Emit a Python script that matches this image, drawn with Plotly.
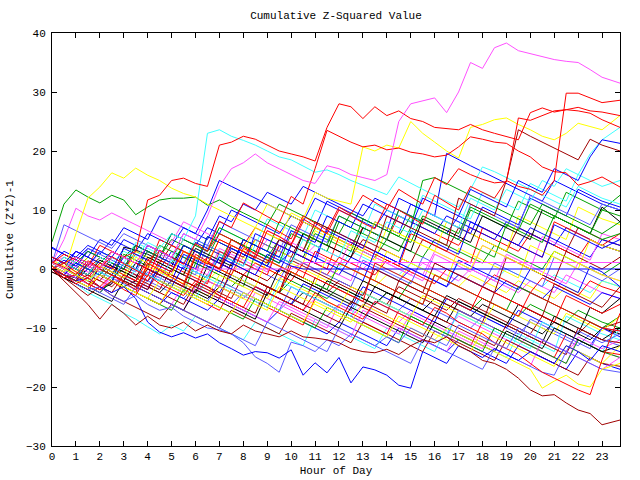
import plotly.graph_objects as go

hours = [0, 0.5, 1, 1.5, 2, 2.5, 3, 3.5, 4, 4.5, 5, 5.5, 6, 6.5, 7, 7.5,
         8, 8.5, 9, 9.5, 10, 10.5, 11, 11.5, 12, 12.5, 13, 13.5, 14, 14.5, 15, 15.5,
         16, 16.5, 17, 17.5, 18, 18.5, 19, 19.5, 20, 20.5, 21, 21.5, 22, 22.5, 23, 23.75]
hour_ticks = list(range(0, 24))
y_ticks = [-30, -20, -10, 0, 10, 20, 30, 40]

RED, GREEN, BLUE, MAGENTA, CYAN = "#ff0000", "#00a000", "#0000ff", "#ff50ff", "#40ffff"
DARKRED, YELLOW, BLACK, LIGHTBLUE = "#a00000", "#ffff00", "#000000", "#5a5aff"

m_top = [1, 0, 2, 1, 0, 3, 2, 1,
         4, 3, 2, 6, 5, 9, 14, 17,
         18, 19.5, 18, 17, 16, 15, 14.5, 17.5,
         17, 16, 15.5, 15, 16, 25, 28, 28.5,
         29, 26.5, 30, 35, 34, 37.5, 38.3, 37,
         36.5, 36, 35.5, 35.2, 35, 33.8, 32.5, 31.5]
r_big = [0, 1, 2, 1, 0, 3, 2, 3,
         11.7, 12.5, 15, 15.4, 14.5, 14, 21, 21.5,
         22.5, 22, 21, 20, 19.5, 19, 18.3, 24,
         28, 27.5, 25.5, 27.5, 26, 26.8, 25.5, 25,
         24, 23.8, 23.6, 24.5, 23.6, 23, 22.4, 21.9,
         26.5, 27.3, 26.6, 27, 26.8, 26.4, 25.3, 24]
r_late = [2, 1, -0.5, -1.5, 1, 0.2, -1, -2,
          1.5, 0.5, -0.5, 3, 2, 0.8, 5, 4,
          3, 1.8, 6.5, 5.5, 4.2, 8.5, 7.2, 6,
          10, 9, 7.8, 6.8, 11, 10, 8.8, 7.6,
          12.5, 11.2, 10, 14, 13, 12, 15, 14,
          13.5, 12.5, 15, 29.8, 29.8, 29, 28.2, 28.6]
r_jump19 = [0.5, -1, -2.5, -1.5, -3, -1, -2.2, -3.5,
            1, -0.2, -1.4, -2.6, 2.5, 1.3, 0.1, 5,
            3.8, 2.6, 7.5, 6.3, 5.1, 9, 7.8, 6.6,
            10.5, 9.3, 12.5, 11.3, 10.1, 13.5, 12.3, 11,
            15.5, 14.3, 17, 16, 15.2, 14.6, 14.8, 25.6,
            25.2, 26, 26.8, 27, 27.4, 26.8, 26.6, 26]
r_second = [1.2, 0.3, -0.9, 1.4, 0.2, 2.1, 0.9, -0.2,
            -1.3, 3.2, 2, 0.8, 4.3, 3, 8.1, 7,
            11.2, 10, 8.9, 7.8, 12.3, 11, 17, 23.5,
            22.5, 21.5, 20.7, 21, 20.2, 20.5, 19.8, 19.5,
            19, 19.3, 20.7, 22.4, 22, 21.5, 21.3, 20,
            19, 17.3, 16.5, 16.3, 14.2, 14.8, 15.6, 13.9]
dr_low = [0, -2, -4, -6, -8.5, -6, -7.5, -9.5,
          -8, -9.5, -10, -9, -10.5, -9.5, -10.5, -11,
          -9.5, -10.5, -11, -11.5, -10.5, -11.5, -11.7, -12,
          -12.5, -13.5, -14, -14.2, -13.6, -14.5, -13, -12,
          -12.5, -11.5, -13, -14, -15.5, -16, -17, -18.5,
          -20.5, -21.5, -21.3, -22.7, -23.9, -24.5, -26.4, -25.6]
b_low = [0, -1, -2, -1.5, -3, -4, -3, -5,
         -9, -10.7, -11.5, -10.8, -11.7, -11, -12.5, -13.5,
         -14.6, -14, -14.2, -15.1, -13.7, -18, -15.9, -17.6,
         -15, -19.3, -16.6, -17.1, -18, -19.7, -20.2, -14,
         -15, -16, -13, -14, -15, -13.5, -14.5, -15.5,
         -14, -15, -16, -13, -14, -15.5, -13, -14]
lb_low = [0, -1, -2.5, -3.5, -3, -4.5, -5.5, -4.5,
          -6, -7, -6.5, -8, -9, -10, -10.3, -11,
          -12.5, -14.9, -16, -17.5, -12.4, -13, -14, -12,
          -13, -11, -12, -13, -11.5, -12.5, -10, -11,
          -12, -13, -9.5, -10.5, -11.5, -12.5, -13.5, -10,
          -11, -12, -13, -14, -10.5, -11.5, -12.5, -11]
y_early = [0.5, -0.5, 6, 12, 13.9, 16.3, 15.4, 17.1,
           15.9, 15, 13.7, 12.8, 12.2, 11, 10, 9,
           8, 7, 11, 10, 9, 8, 7, 6,
           5, 4, 3, 8, 7, 6, 5, 4,
           3, 2, 1, 0, 4, 3, 2, 1,
           0, -1, 3, 2, 1, 0, -1, -2]
g_early = [4.6, 11, 13.4, 12.2, 11.2, 12.5, 11.7, 9.2,
           10.5, 11.7, 12, 12, 12.2, 10.8, 11.7, 10.5,
           9.5, 8.5, 7.5, 11, 10, 9, 8, 7,
           6, 9.5, 8.5, 7.5, 6.5, 5.5, 4.5, 9,
           8, 7, 6, 10.5, 9.5, 8.5, 7.5, 6.5,
           11, 10, 9, 8, 7, 6, 10, 9]
c_top = [0, 1, 0, -1, 2, 1, 3, 2,
         4.5, 3.5, 6, 5, 9, 23, 23.6, 22.5,
         21.8, 21, 20, 19, 18.5, 17.5, 16.4, 16.8,
         16, 15, 14.2, 13.5, 12.6, 15.6, 14.5, 13.5,
         12.5, 11.5, 10.5, 13.5, 17.3, 16.5, 15.5, 14.5,
         13.5, 12.5, 11.5, 10.5, 14, 13, 12, 11]
y_mid = [1, 0, -1, -2, 0.5, -0.5, -1.5, 2,
         1, 0, -1, 3, 2, 1, 5, 4,
         3, 7, 6, 5, 9.5, 8.5, 13, 12,
         11.5, 11, 20.7, 20, 21, 20.5, 25, 23,
         21.5, 20, 18.8, 24, 24.5, 25.3, 25.6, 24.5,
         23.6, 22.5, 21.9, 23, 24.7, 24.2, 23.6, 26]
r_low = [0, -1.5, -1, -2.5, -3.5, -2, -3.5, -4.5,
         -1, -2.5, -3.5, -4.5, -2, -3, -4.5, -5.5,
         -6.5, -3, -4, -5, -6, -7, -4, -5.5,
         -6.5, -7.5, -8.5, -5.5, -6.5, -7.5, -8.5, -9.5,
         -6.5, -7.5, -9, -10, -11, -12.5, -13.5, -14.5,
         -16, -17.5, -18.5, -19.5, -20.5, -21.3, -15.4, -7.5]
c_right = [1, 0, -1, -2, -0.5, -1.5, 1, 0,
           -1, -2, 1.5, 0.5, -0.5, -1.5, 2.5, 1.5,
           0.5, 4, 3, 2, 1, 5, 4, 3,
           2, 6.5, 5.5, 4.5, 8, 7, 6, 10,
           9, 8, 7, 12, 11, 10, 13.5, 12.5,
           11.5, 15, 14, 17, 16, 19.5, 21.9, 24]
b_right = [2, 1, 3, 2, 1, 0, 3.5, 2.5,
           1.5, 0.5, -0.5, 4, 3, 2, 1, 0,
           5, 4, 3, 2, 6.5, 5.5, 4.5, 9,
           8, 7, 11, 10, 9, 8, 7, 12,
           11, 10, 9, 13.5, 12.5, 11.5, 10.5, 15,
           14, 13, 17, 16, 15, 19, 21.9, 21.3]
dr_upper = [0, -1, -2, 1, 0, -1, -2, -3,
            0, -1, -2, -3, 2, 1, 0, 4,
            3, 2, 1, 5, 4, 3, 8, 7,
            6, 5, 4, 3, 9, 8, 7, 6,
            5, 4, 12, 11, 10, 9, 15, 23.6,
            22.5, 21.5, 20.5, 19.5, 18.5, 22, 21, 20]
y_low = [0, -1, -2, -3, -1, -2, -3, -4,
         -5, -2, -3, -4, -5, -6, -3, -4,
         -5, -6, -7, -3, -4, -5, -6, -7,
         -8, -9, -6, -7, -8, -9, -10, -11,
         -12, -10, -11, -12, -13, -14, -15, -16,
         -17, -20.2, -19, -18, -19.5, -20, -17, -16]
m_flat = [0.5, -0.5, 1.5, 0.5, -0.5, 2, 1, 0,
          -1, 2.5, 1.5, 0.5, 0, 0, 0, 0,
          0, 0, 0, 0, 0, 1.1, 1.1, 1.1,
          1.1, 1.1, 1.1, 1.1, 1.1, 1.1, 1.1, 1.1,
          1.1, 1.1, 1.1, 1.1, 1.1, 1.1, 1.1, 1.1,
          1.1, 1.1, 1.1, 1.1, 1.1, 1.1, 1.1, 1.1]
b_flat = [0, -1, 1, 0, -1, -2, 1, 0,
          -1, -2, -3, 0.5, -0.5, -1.5, 2, 1,
          0, -1, 2.5, 1.5, 0.5, 0, 0, 0,
          0, 0, 0, 0, 0, 0, 0, 0,
          0, 0, 0, 0, 0, 0, 0, 0,
          0, 0, 0, 0, 0, 0, 0, 0]
g_a = [0.5, -0.5, 2, 1, 0, -1, 2.5, 1.5,
       0.5, 4, 3, 2, 1, 5.5, 4.5, 3.5,
       2.5, 1.5, 0.5, 4, 3, 2, 6, 5,
       4, 3, 8.5, 7.5, 6.5, 5.5, 9, 8,
       7, 6, 5, 10, 9, 8, 7, 11.5,
       10.5, 9.5, 8.5, 13, 12, 11, 10, 12.5]
b_a = [1, 0, -1, -2, 0.5, -0.5, -1.5, -2.5,
       -3.5, 1, 0, -1, -2, -3, -4, -1,
       -2, -3, -4, -5, -6, -2.5, -3.5, -4.5,
       -5.5, -6.5, -3, -4, -5, -6, -7, -8,
       -9, -5, -6, -7, -8, -9, -10, -7,
       -8, -9, -10, -11, -12, -13, -10, -11.5]
m_a = [1, 2, 1, 0, 3, 2, 1, 0,
       -1, -2, 2, 1, 0, -1, 3.5, 2.5,
       1.5, 0.5, -0.5, 4, 3, 2, 1, 0,
       -1, -2, 3, 2, 1, 0, -1, -2,
       2.5, 1.5, 0.5, -0.5, 4, 3, 2, 1,
       0, 5.5, 4.5, 3.5, 2.5, 1.5, 6, 5]
c_a = [0, -1.5, -2.5, -4, -5, -6, -7.5, -8.5,
       -9.8, -11, -9.5, -10.5, -8, -9, -10, -11,
       -12, -9, -10, -11, -12, -13, -8.5, -9.5,
       -10.5, -11.5, -12.5, -13.5, -10, -11, -12, -13,
       -14, -10, -11, -12, -13, -14, -15, -11,
       -12, -13, -14, -8, -9, -10, -11, -12]
dr_a = [0, 1, 0, -1, -2, 0.5, -0.5, -1.5,
        -2.5, -3.5, 0, -1, -2, -3, -4, -5,
        -1, -2, -3, -4, -5, -6, -1.5, -2.5,
        -3.5, -4.5, -5.5, -6.5, -7.5, -2, -3, -4,
        -5, -6, -7, -8, -9, -4, -5, -6,
        -7, -8, -2.5, -3.5, -4.5, -5.5, -6.5, -3]
y_a = [1.5, 0.5, -0.5, 2, 1, 0, -1, 3,
       2, 1, 0, -1, 4.5, 3.5, 2.5, 1.5,
       0.5, 5, 4, 3, 2, 1, 6.5, 5.5,
       4.5, 3.5, 2.5, 1.5, 7, 6, 5, 4,
       3, 8, 7, 6, 5, 4, 3, 9,
       8, 7, 6, 5, 10.5, 9.5, 8.5, 7.5]
k_a = [0, -1, -1.5, -2.5, -3.5, -2.5, 3.7, 3.2,
       2.5, 1.5, 0.5, 4, 3, 2, 1, 0,
       -1, -2, -3, -4, -0.5, -1.5, -2.5, -3.5,
       -4.5, -5.5, -6.5, -3, -4, -5, -6, -7,
       -8, -9, -5.5, -6.5, -7.5, -8.5, -9.5, -10.5,
       -11.5, -12.5, -8, -9, -10, -11, -12, -10]
lb_a = [2, 1, 0, 3.5, 2.5, 1.5, 0.5, -0.5,
        3, 2, 1, 0, -1, 4, 3, 2,
        1, 0, -1, -2, 2, 1, 0, -1,
        -2, -3, 1.5, 0.5, -0.5, -1.5, -2.5, 2,
        1, 0, -1, -2, -3, 1, 0, -1,
        -2, -3, 2, 1, 0, -1, -2, 0]
r_a = [-0.5, -1.5, -2.5, -3.5, -1, -2, -3, -4,
       -5, -6, -3, -4, -5, -6, -7, -3.5,
       -4.5, -5.5, -6.5, -7.5, -8.5, -9.5, -5, -6,
       -7, -8, -9, -10, -11, -7, -8, -9,
       -10, -11, -12, -13, -9, -10, -11, -12,
       -13, -14, -15, -11, -12, -13, -14, -14.5]
g_b = [0, 2, 1, 0, -1, -2, 1, 0,
       -1, -2, -3, -4, 1, 0, -1, -2,
       -3, 2.5, 1.5, 0.5, -0.5, -1.5, -2.5, -3.5,
       1, 0, -1, -2, -3, -4, -5, -6,
       -1, -2, -3, -4, -5, -6, -7, -3,
       -4, -5, -6, -7, -8, -9, -10, -8]
b_b = [1, 0, 3, 2, 5, 4, 7, 6,
       5, 9, 8, 7, 6, 10, 15, 14,
       13, 12, 11, 10, 9, 8, 7, 11.5,
       10.5, 9.5, 8.5, 7.5, 6.5, 12, 11, 10,
       9, 8, 7, 6, 10.5, 9.5, 8.5, 7.5,
       12, 11, 10, 9, 13.5, 12.5, 11.5, 10.5]
m_b = [0, -1, -2, -3, -4, -1, -2, -3,
       -4, -5, -6, -2.5, -3.5, -4.5, -5.5, -6.5,
       -7.5, -4, -5, -6, -7, -8, -9, -10,
       -6, -7, -8, -9, -10, -11, -7.5, -8.5,
       -9.5, -10.5, -11.5, -12.5, -13.5, -10, -11, -12,
       -13, -14, -15, -16, -11.5, -12.5, -13.5, -12]
c_b = [0.5, -0.5, 1.5, 0.5, 3, 2, 1, 4.5,
       3.5, 2.5, 1.5, 5, 4, 3, 7, 6,
       5, 4, 8.5, 7.5, 6.5, 5.5, 10, 9,
       8, 7, 6, 11, 10, 9, 8, 12.5,
       11.5, 10.5, 9.5, 8.5, 13, 12, 11, 10,
       14.5, 13.5, 12.5, 11.5, 16, 15, 14, 15]
dr_b = [0, -1.5, -3, -4.5, -3, -4.5, -5.5, -6.5,
        -7.5, -8.5, -6, -7, -8, -9, -10, -7,
        -8, -9, -10, -11, -7.5, -8.5, -9.5, -10.5,
        -11.5, -12.5, -9, -10, -11, -12, -13, -14,
        -10.5, -11.5, -12.5, -13.5, -14.5, -15.5, -12, -13,
        -14, -15, -16, -17, -18, -15, -16, -16.5]
y_b = [1, 0, -1, -2, 0, -1, -2, -3,
       0.5, -0.5, -1.5, -2.5, -3.5, -4.5, -1, -2,
       -3, -4, -5, -1.5, -2.5, -3.5, -4.5, -5.5,
       -6.5, -3, -4, -5, -6, -7, -8, -4.5,
       -5.5, -6.5, -7.5, -8.5, -9.5, -6, -7, -8,
       -9, -10, -11, -7.5, -8.5, -9.5, -10.5, -8]
k_b = [1, 0, 2, 1, 0, -1, -2, 1,
       0, -1, -2, -3, -4, 0.5, -0.5, -1.5,
       -2.5, -3.5, -4.5, 0, -1, -2, -3, -4,
       -5, -6, -2, -3, -4, -5, -6, -7,
       -8, -4.5, -5.5, -6.5, -7.5, -8.5, -9.5, -6,
       -7, -8, -9, -10, -11, -6.5, -7.5, -5]
lb_b = [0, -1, 1.5, 0.5, -0.5, -1.5, -2.5, -3.5,
        -0.5, -1.5, -2.5, -3.5, -4.5, -5.5, -2, -3,
        -4, -5, -6, -7, -3, -4, -5, -6,
        -7, -8, -9, -5.5, -6.5, -7.5, -8.5, -9.5,
        -10.5, -11.5, -7, -8, -9, -10, -11, -12,
        -8.5, -9.5, -10.5, -11.5, -12.5, -13.5, -10, -10.5]
r_b = [0, 1, 0, -1, 2, 1, 0, -1,
       -2, 1.5, 0.5, -0.5, -1.5, -2.5, 3, 2,
       1, 0, -1, 4, 3, 2, 1, 0,
       5.5, 4.5, 3.5, 2.5, 1.5, 0.5, 6, 5,
       4, 3, 2, 1, 7, 6, 5, 4,
       3, 2, 8, 7, 6, 5, 4, 6]
g_c = [0, -1, 1, 0, -1, 2, 1, 0,
       3, 2, 1, 4, 3, 2, 1, 5,
       4, 3, 2, 1, 6, 5, 4, 3,
       8, 7, 6, 5, 4, 3, 7, 15,
       15.5, 14.5, 13.5, 12.5, 11.5, 10.5, 9.5, 8.5,
       7.5, 11, 10, 9, 8, 7, 6, 8]
b_c = [0.5, -0.5, -1.5, 1, 0, -1, 2, 1,
       0, -1, -2, 2.5, 1.5, 0.5, -0.5, 3.5,
       2.5, 1.5, 0.5, 5, 4, 3, 2, 6.5,
       5.5, 4.5, 3.5, 8, 7, 6, 11, 10,
       9, 19.6, 18.5, 17.5, 16.5, 15.5, 14.5, 13.5,
       12.5, 11.5, 15, 14, 13, 12, 11, 10]
m_c = [1, 5, 10.3, 9, 8.3, 9.5, 8.5, 7.5,
       6.5, 5.5, 4.5, 8, 7, 6, 5, 4,
       3, 2, 6.5, 5.5, 4.5, 3.5, 2.5, 1.5,
       0.5, 5, 4, 3, 2, 1, 0, -1,
       3, 2, 1, 0, -1, -2, 2.5, 1.5,
       0.5, -0.5, -1.5, -2.5, 1, 0, -1, -2]
c_c = [0, 2, 1, 0, -1, -2, -3, 0,
       -1, -2, -3, -4, -5, -1.5, -2.5, -3.5,
       -4.5, -5.5, -6.5, -2, -3, -4, -5, -6,
       -7, -8, -4, -5, -6, -7, -8, -9,
       -10, -11, -7.5, -8.5, -9.5, -10.5, -11.5, -12.5,
       -13.5, -9, -10, -11, -12, -13, -14, -10]
dr_c = [1, 0, -1, -2, -3, -4, -1, -2,
        -3, -4, -5, -6, -2.5, -3.5, -4.5, -5.5,
        -6.5, -7.5, -3, -4, -5, -6, -7, -8,
        -9, -5.5, -6.5, -7.5, -8.5, -9.5, -10.5, -11.5,
        -8, -9, -10, -11, -12, -13, -9.5, -10.5,
        -11.5, -12.5, -13.5, -14.5, -10, -11, -12, -12.5]
y_c = [0, -1, -2, 1, 0, -1, -2, -3,
       0.5, -0.5, -1.5, -2.5, 2, 1, 0, -1,
       -2, -3, 1.5, 0.5, -0.5, -1.5, -2.5, 2,
       1, 0, -1, -2, 3, 2, 1, 0,
       -1, -2, 3.5, 2.5, 1.5, 0.5, -0.5, -1.5,
       4, 3, 2, 1, 0, 5, 4, 3]
k_c = [2, 1, 0, -1, 1.5, 0.5, -0.5, -1.5,
       2, 1, 0, -1, 3.5, 2.5, 1.5, 0.5,
       5, 4, 3, 2, 1, 6, 5, 4,
       3, 2, 7, 6, 5, 4, 3, 8.5,
       7.5, 6.5, 5.5, 4.5, 9, 8, 7, 6,
       5, 10, 9, 8, 7, 6, 10.5, 8]
lb_c = [1, 7.5, 6.5, 5.5, 4.5, 3.5, 6, 5,
        4, 3, 2, 6, 5, 4, 8, 7,
        6, 5, 4, 3, 7.5, 6.5, 5.5, 4.5,
        9, 8, 7, 6, 5, 10, 9, 8,
        7, 6, 5, 11, 10, 9, 8, 7,
        12.5, 11.5, 10.5, 9.5, 8.5, 7.5, 11, 10]
r_c = [0, -1, -2, -3, -1, -2, -3, -4,
       1, 0, -1, -2, -3, 2, 1, 0,
       -1, -2, -3, -4, 0.5, -0.5, -1.5, -2.5,
       -3.5, -4.5, -5.5, 1, 0, -1, -2, -3,
       -4, -5, -6, -7, -3, -4, -5, -6,
       -7, -8, -9, -4.5, -5.5, -6.5, -7.5, -6]
g_d = [0, -1, -2, -3, -4, -2, -3, -4,
       -5, -6, -7, -3.5, -4.5, -5.5, -6.5, -7.5,
       -8.5, -5, -6, -7, -8, -9, -10, -6.5,
       -7.5, -8.5, -9.5, -10.5, -11.5, -12.5, -8, -9,
       -10, -11, -12, -13, -14, -10, -11, -12,
       -13, -14, -15, -16, -12, -13, -14, -15]
b_d = [3.5, 2.5, 1.5, 0.5, 3, 2, 1, 0,
       4, 3, 2, 1, 0, 5.5, 4.5, 3.5,
       2.5, 1.5, 0.5, -0.5, 4, 3, 2, 1,
       0, -1, -2, 3, 2, 1, 0, -1,
       -2, -3, 1.5, 0.5, -0.5, -1.5, -2.5, -3.5,
       0, -1, -2, -3, -4, 0.5, -0.5, -3]
m_d = [0.5, -0.5, -1.5, -2.5, -3.5, -1, -2, -3,
       -4, -5, -6, -7, -3, -4, -5, -6,
       -7, -8, -9, -5.5, -6.5, -7.5, -8.5, -9.5,
       -10.5, -11.5, -7, -8, -9, -10, -11, -12,
       -13, -14, -10.5, -11.5, -12.5, -13.5, -14.5, -15.5,
       -16.5, -12, -13, -14, -15, -16, -17, -15]
b_e = [0, 1.5, 0.5, 3, 2, 1, 0, 4,
       3, 2, 1, 0, 4.5, 3.5, 2.5, 1.5,
       0.5, 6, 5, 4, 3, 2, 1, 7,
       6, 5, 4, 3, 2, 1, 6.5, 5.5,
       4.5, 3.5, 2.5, 8, 7, 6, 5, 4,
       3, 2, 7.5, 6.5, 5.5, 4.5, 3.5, 5]
r_d = [1, 2.5, 1.5, 0.5, 4, 3, 2, 1,
       0, 5, 4, 3, 2, 1, 0, -1,
       3.5, 2.5, 1.5, 0.5, -0.5, -1.5, 3, 2,
       1, 0, -1, -2, -3, -4, -5, -6,
       -1, -2, -3, -4, -5, -6, -7, -8,
       -4, -5, -6, -7, -8, -9, -10, -10.5]
g_e = [0.5, -0.5, 1, 3, 2, 1, 0, 4,
       3, 2, 6, 5, 4, 3, 7, 6,
       5, 4, 3, 8, 7, 6, 5, 4,
       9, 8, 7, 6, 5, 10, 9, 8,
       7, 6, 5, 4, 3, 2, 7.5, 6.5,
       5.5, 4.5, 9, 8, 7, 6, 5, 6]
dr_d = [0, -1, -2, -3, 0.5, -0.5, -1.5, -2.5,
        -3.5, 0, -1, -2, -3, -4, -5, 0,
        -1, -2, -3, -4, 1.5, 0.5, -0.5, -1.5,
        -2.5, -3.5, -4.5, 0, -1, -2, -3, -4,
        1, 0, -1, -2, -3, -4, 2, 1,
        0, -1, -2, 3, 2, 1, 0, 2]
k_d = [-0.5, -1.5, -2.5, -3.5, -4.5, -5.5, -2, -3,
       -4, -5, -6, -7, -3.5, -4.5, -5.5, -6.5,
       -7.5, -8.5, -4, -5, -6, -7, -8, -9,
       -10, -6.5, -7.5, -8.5, -9.5, -10.5, -11.5, -12.5,
       -9, -10, -11, -12, -13, -14, -10.5, -11.5,
       -12.5, -13.5, -10, -11, -12, -13, -14, -13]
y_d = [0, -1, -2, -3, -1, -2, -3, -4,
       -5, -6, -2.5, -3.5, -4.5, -5.5, -6.5, -7.5,
       -4, -5, -6, -7, -8, -9, -5.5, -6.5,
       -7.5, -8.5, -9.5, -10.5, -11.5, -8, -9, -10,
       -11, -12, -13, -14, -10.5, -11.5, -12.5, -13.5,
       -14.5, -15.5, -16.5, -13, -14, -15, -16, -13]
lb_d = [0, -1, -2, -3, -4, -5, -6, -3,
        -4, -5, -6, -7, -8, -9, -10, -11,
        -12, -13, -9, -10, -11, -12, -13, -14,
        -10, -11, -12, -13, -14, -15, -16, -12,
        -13, -14, -15, -16, -17, -13.5, -14.5, -15.5,
        -16.5, -17.5, -18, -14, -15, -16, -17, -17.5]
n_b1 = [3.7, 2.5, 1.5, 3.5, 2.5, 5, 4, 3,
        6, 5, 4, 7, 6, 5, 9, 8,
        11, 10, 13, 12, 11, 14, 13, 12,
        11, 10, 9, 12, 11, 10, 9, 8,
        7, 6, 9, 8, 7, 6, 5, 4,
        7, 6, 5, 4, 3, 2, 5, 4]
n_r1 = [0, -1, 1, 0, 2, 1, 0, 2.5,
        1.5, 3, 2, 1, 0, 2, 1, 0,
        -1, 1, 0, -1, -2, 1, 0, -1,
        2, 1, 0, -1, 1.5, 0.5, -0.5, -1.5,
        -2.5, 0, -1, -2, -3, -1, -2, -3,
        -4, -1.5, -2.5, -3.5, -4.5, -2, -3, -4]
n_g1 = [1, 0, -1, 0.5, -0.5, -1.5, 0, -1,
        -2, 0, -1, -2, -3, -1, -2, -3,
        -1, -2, -3, -4, -2, -3, -4, -5,
        -3, -4, -5, -6, -4, -5, -2, -3,
        -4, -5, -6, -7, -5, -6, -7, -8,
        -6, -7, -8, -9, -7, -8, -9, -10]
n_b2 = [0, -1, -2, 0, -1, 1, 0, -1,
        -2, 0, 3, 2, 1, 0, 2, 1,
        4, 3, 2, 1, 3, 2, 1, 0,
        -1, 2, 1, 0, -1, -2, 0, -1,
        -2, -3, -1, -2, -3, -4, -2, -3,
        -4, -5, -3, -4, -5, -6, -4, -5]
n_m1 = [2, 1, 3, 2, 1, 0, 2, 1,
        0, -1, 1, 0, 3, 2, 1, 4,
        3, 2, 5, 4, 3, 2, 4, 3,
        2, 1, 0, 2, 1, 0, -1, 1,
        0, -1, -2, 0, -1, -2, -3, -4,
        -2, -3, -4, -1, -2, -3, -4, -5]
n_dr1 = [0, -1, -2, -1, -2, -3, -1, -2,
         0, -1, -2, -3, -4, -2, -3, 1,
         0, -1, -2, 0, -1, -2, -3, -4,
         -2, -3, -4, -5, -6, -3, -4, -5,
         -6, -7, -5, -6, -7, -8, -9, -10,
         -11, -8, -9, -10, -11, -9, -10, -9]
n_b3 = [1, 3, 2, 4, 3, 2, 5, 4,
        3, 2, 6, 5, 4, 7, 6, 10,
        9, 8, 7, 6, 9, 8, 12, 11,
        10, 9, 8, 7, 10, 9, 8, 7,
        6, 9, 8, 7, 6, 5, 8, 7,
        6, 5, 4, 7, 6, 5, 4, 3]
n_c1 = [0, 1, 0, 2, 1, 0, -1, 1,
        0, 3, 2, 1, 5, 4, 3, 2,
        1, 0, 2, 1, 4, 3, 2, 1,
        0, 3, 2, 1, 0, -1, 1, 0,
        -1, -2, 1, 0, -1, -2, 0, -1,
        -2, -3, -1, -2, -3, -4, -2, -3]
n_lb1 = [0, -1, -2, -3, -1, -2, -3, -4,
         -2, -3, -4, -5, -3, -4, -5, -6,
         -4, -5, -6, -7, -5, -6, -7, -8,
         -6, -7, -4, -5, -6, -7, -5, -6,
         -7, -8, -9, -10, -8, -9, -10, -11,
         -9, -10, -11, -12, -13, -11, -12, -13]
n_k1 = [0.5, -0.5, -1.5, 0, -1, -2, -3, -2,
        -3, -4, -2, -3, -4, -5, -3, -4,
        -5, -3, -4, -5, -6, -4, -5, -2,
        -3, -4, -5, -6, -4, -5, -6, -7,
        -5, -6, -7, -8, -6, -7, -8, -9,
        -10, -11, -9, -10, -11, -12, -10, -11]
n_y1 = [0, 1, 0, -1, 1, 0, 2, 1,
        0, -1, 1, 0, -1, -2, 0, -1,
        2, 1, 0, -1, 1, 0, -1, -2,
        0, -1, -2, -3, -1, -2, 1, 0,
        -1, -2, -3, -1, -2, -3, -4, -2,
        -3, -4, -5, -3, -4, -5, -2, -3]
n_r2 = [1, 0, 2, 1, 0, 3, 2, 1,
        4, 3, 2, 5, 4, 3, 6, 5,
        4, 7, 6, 5, 4, 8, 7, 6,
        5, 4, 7, 6, 5, 9, 8, 7,
        6, 5, 4, 7, 6, 5, 4, 3,
        6, 5, 4, 3, 2, 5, 4, 3]
n_g2 = [2, 1, 0, 2, 1, 3, 2, 4,
        3, 2, 5, 4, 3, 2, 6, 5,
        4, 3, 2, 5, 4, 3, 7, 6,
        5, 4, 3, 2, 5, 4, 3, 2,
        5, 4, 3, 2, 1, 4, 3, 2,
        1, 0, 3, 2, 1, 0, -1, 1]
n_b4 = [0, -1, -2, -3, -4, -2, -3, -4,
        -5, -6, -4, -5, -6, -7, -5, -6,
        -7, -8, -9, -7, -8, -9, -10, -11,
        -9, -10, -11, -12, -13, -10, -11, -12,
        -13, -14, -12, -13, -14, -15, -16, -13,
        -14, -15, -16, -17, -14, -15, -16, -17]
n_m2 = [0, -1, 0.5, -0.5, -1.5, -2.5, -1, -2,
        -3, -1, -2, -3, -4, -2, -3, -4,
        -5, -3, -4, -5, -6, -7, -5, -6,
        -7, -8, -6, -7, -8, -9, -7, -8,
        -9, -10, -8, -9, -10, -11, -12, -13,
        -11, -12, -13, -14, -12, -13, -14, -15]
n_dr2 = [0, 1, 0, -1, 2, 1, 0, 3,
         2, 1, 4, 3, 2, 1, 0, 3,
         2, 5, 4, 3, 2, 6, 5, 4,
         3, 2, 5, 4, 3, 2, 1, 5,
         4, 3, 7, 6, 5, 4, 3, 7,
         6, 5, 4, 3, 7, 6, 5, 4]

series = [
    (n_g1, GREEN), (n_y1, YELLOW), (n_c1, CYAN), (n_m1, MAGENTA), (n_lb1, LIGHTBLUE),
    (n_k1, BLACK), (n_dr1, DARKRED), (n_b2, BLUE), (n_r1, RED), (n_g2, GREEN),
    (n_m2, MAGENTA), (n_dr2, DARKRED), (n_b4, BLUE), (n_r2, RED), (n_b3, BLUE), (n_b1, BLUE),
    (g_a, GREEN), (b_a, BLUE), (m_a, MAGENTA), (c_a, CYAN), (dr_a, DARKRED),
    (y_a, YELLOW), (k_a, BLACK), (lb_a, LIGHTBLUE), (r_a, RED), (g_b, GREEN),
    (b_b, BLUE), (m_b, MAGENTA), (c_b, CYAN), (dr_b, DARKRED), (y_b, YELLOW),
    (k_b, BLACK), (lb_b, LIGHTBLUE), (r_b, RED), (g_c, GREEN), (b_c, BLUE),
    (m_c, MAGENTA), (c_c, CYAN), (dr_c, DARKRED), (y_c, YELLOW), (k_c, BLACK),
    (lb_c, LIGHTBLUE), (r_c, RED), (g_d, GREEN), (b_d, BLUE), (m_d, MAGENTA),
    (b_e, BLUE), (r_d, RED), (g_e, GREEN), (dr_d, DARKRED), (k_d, BLACK),
    (y_d, YELLOW), (lb_d, LIGHTBLUE),
    (m_flat, MAGENTA), (b_flat, BLUE),
    (y_low, YELLOW), (r_low, RED), (lb_low, LIGHTBLUE), (b_low, BLUE), (dr_low, DARKRED),
    (g_early, GREEN), (y_early, YELLOW), (c_top, CYAN), (c_right, CYAN), (b_right, BLUE),
    (dr_upper, DARKRED), (y_mid, YELLOW), (r_second, RED), (r_jump19, RED),
    (r_late, RED), (r_big, RED), (m_top, MAGENTA),
]

for i, (vals, _) in enumerate(series):
    if len(vals) != len(hours):
        raise ValueError(f"series {i} has {len(vals)} values")

FONT = "Liberation Mono"
fig = go.Figure()
for vals, col in series:
    fig.add_trace(go.Scatter(x=hours, y=vals, mode="lines",
                             line=dict(color=col, width=1), showlegend=False,
                             hoverinfo="skip"))

axis_common = dict(showline=True, linecolor="black", linewidth=1, mirror="ticks",
                   ticks="inside", ticklen=5, tickcolor="black", tickwidth=1,
                   showgrid=False, zeroline=False, automargin=False,
                   tickfont=dict(family=FONT, size=11, color="black"))
fig.update_layout(
    width=640, height=480,
    margin=dict(l=52, r=20, t=33, b=34),
    paper_bgcolor="white", plot_bgcolor="white",
    font=dict(family=FONT, size=11, color="black"),
    title=dict(text="Cumulative Z-Squared Value", x=0.5, xref="paper",
               y=1 - 15 / 480, yref="container", yanchor="middle",
               font=dict(family=FONT, size=11, color="black")),
    xaxis=dict(range=[0, 23.75], tickvals=hour_ticks,
               ticktext=[str(h) for h in hour_ticks],
               title=dict(text="Hour of Day", standoff=4,
                          font=dict(family=FONT, size=11)),
               **axis_common),
    yaxis=dict(range=[-30, 40], tickvals=y_ticks, ticklabelstandoff=3,
               title=dict(text="Cumulative (Z*Z)-1", standoff=10,
                          font=dict(family=FONT, size=11)),
               **axis_common),
)
fig.write_html("out.html", config={"displayModeBar": False, "staticPlot": True},
               post_script="document.body.style.margin='0';"
                           "document.body.style.overflow='hidden';")
